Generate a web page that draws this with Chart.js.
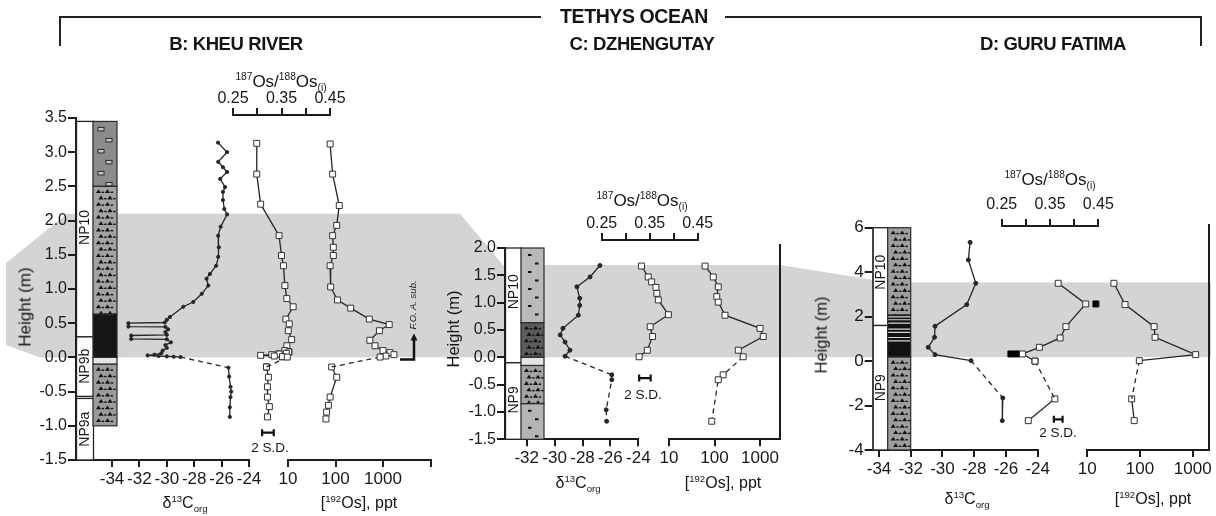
<!DOCTYPE html>
<html><head><meta charset="utf-8">
<script src="https://cdn.jsdelivr.net/npm/chart.js@4.4.1/dist/chart.umd.min.js"></script>
<style>
html,body{margin:0;padding:0;background:#fff}
#wrap{position:relative;width:1216px;height:516px;overflow:hidden;font-family:'Liberation Sans',Arial,sans-serif;color:#151515}
canvas{position:absolute;left:0;top:0}
.t{position:absolute;white-space:nowrap;transform:translate(-50%,-50%);line-height:1}
.b{font-weight:bold;font-size:18.5px;letter-spacing:-0.4px}
.ax{font-size:16px}
.os{font-size:17px}
.sd{font-size:13.5px}
sup,sub{font-size:60%;line-height:0}
.rot{transform:translate(-50%,-50%) rotate(-90deg)}
.ln{position:absolute;background:#222}
</style></head><body><div id="wrap">
<canvas id="bg" width="1216" height="516"></canvas>
<canvas id="cB1" width="1216" height="516"></canvas>
<canvas id="cB2" width="1216" height="516"></canvas>
<canvas id="cB3" width="1216" height="516"></canvas>
<canvas id="cC1" width="1216" height="516"></canvas>
<canvas id="cC2" width="1216" height="516"></canvas>
<canvas id="cC3" width="1216" height="516"></canvas>
<canvas id="cD1" width="1216" height="516"></canvas>
<canvas id="cD2" width="1216" height="516"></canvas>
<canvas id="cD3" width="1216" height="516"></canvas>

<div class="ln" style="left:59px;top:16px;width:482px;height:2px"></div>
<div class="ln" style="left:59px;top:16px;width:2px;height:30px"></div>
<div class="ln" style="left:725px;top:16px;width:477px;height:2px"></div>
<div class="ln" style="left:1200px;top:16px;width:2px;height:30px"></div>
<div class="t b" style="left:634px;top:17px;font-size:19.5px">TETHYS OCEAN</div>
<div class="t b" style="left:236px;top:44px">B: KHEU RIVER</div>
<div class="t b" style="left:642px;top:44px">C: DZHENGUTAY</div>
<div class="t b" style="left:1053px;top:44px">D: GURU FATIMA</div>

<div class="t os" style="left:281px;top:81px"><sup>187</sup>Os/<sup>188</sup>Os<sub>(i)</sub></div>
<div class="t os" style="left:642px;top:200px"><sup>187</sup>Os/<sup>188</sup>Os<sub>(i)</sub></div>
<div class="t os" style="left:1050px;top:179px"><sup>187</sup>Os/<sup>188</sup>Os<sub>(i)</sub></div>

<div class="t ax rot" style="left:25px;top:307px;font-size:17px">Height (m)</div>
<div class="t ax rot" style="left:453px;top:329px;font-size:16.5px">Height (m)</div>
<div class="t ax rot" style="left:821px;top:335px;font-size:16.5px">Height (m)</div>

<div class="t ax" style="left:185px;top:503px">δ<sup>13</sup>C<sub>org</sub></div>
<div class="t ax" style="left:359px;top:503px">[<sup>192</sup>Os], ppt</div>
<div class="t ax" style="left:578px;top:483px">δ<sup>13</sup>C<sub>org</sub></div>
<div class="t ax" style="left:723px;top:483px">[<sup>192</sup>Os], ppt</div>
<div class="t ax" style="left:967px;top:499px">δ<sup>13</sup>C<sub>org</sub></div>
<div class="t ax" style="left:1153px;top:499px">[<sup>192</sup>Os], ppt</div>

<div class="t sd" style="left:270px;top:448px">2 S.D.</div>
<div class="t sd" style="left:643px;top:395px">2 S.D.</div>
<div class="t sd" style="left:1058px;top:433px">2 S.D.</div>
<div class="t rot" style="left:413px;top:305px;font-size:9.5px;font-style:italic">F.O. A. sub.</div>
</div>
<script>
// ================= DATA =================
// Panel B: Kheu River
const kheuHeightTicks = [3.5,3.0,2.5,2.0,1.5,1.0,0.5,0.0,-0.5,-1.0,-1.5];
const kheuHeightLabels = ['3.5','3.0','2.5','2.0','1.5','1.0','0.5','0.0','-0.5','-1.0','-1.5'];
const kheuCarbonTicks = [-34,-32,-30,-28,-26,-24];
const kheuCarbonLabels = ['-34','-32','-30','-28','-26','-24'];
const kheuC13H = [3.14,3.00,2.86,2.78,2.71,2.61,2.49,2.42,2.30,2.17,2.09,1.91,1.78,1.61,1.47,1.34,1.22,1.15,1.05,0.93,0.81,0.74,0.59,0.55,0.51,0.50,0.45,0.445,0.41,0.37,0.33,0.32,0.27,0.265,0.22,0.18,0.14,0.10,0.06,0.04,0.03,0.02,0.015,0.01,0.005];
const kheuC13V = [-26.26,-25.6,-26.25,-25.9,-25.6,-26.1,-25.75,-25.9,-25.9,-25.8,-25.6,-26.07,-26.25,-26.2,-26.25,-26.4,-26.85,-27.1,-26.97,-27.45,-28.07,-28.8,-29.77,-30.0,-30.15,-32.8,-32.8,-30.1,-29.9,-30.1,-30.0,-32.6,-32.6,-30.0,-29.7,-30.1,-30.0,-30.3,-30.4,-30.9,-31.4,-30.6,-30.0,-29.5,-29.0];
const kheuC13LowH = [-0.15,-0.28,-0.43,-0.50,-0.58,-0.73,-0.87];
const kheuC13LowV = [-25.5,-25.45,-25.35,-25.3,-25.35,-25.4,-25.4];
const kheuRatioH = [3.13,2.68,2.24,1.78,1.49,1.34,1.05,0.86,0.74,0.56,0.49,0.39,0.26,0.17,0.10,0.08,0.06,0.05,0.04,0.03,0.02,0.01,0.005];
const kheuRatioV = [0.299,0.299,0.307,0.345,0.350,0.354,0.357,0.361,0.374,0.359,0.366,0.364,0.371,0.361,0.357,0.365,0.360,0.345,0.330,0.307,0.335,0.352,0.362];
const kheuRatioLowH = [-0.14,-0.29,-0.43,-0.58,-0.72,-0.87];
const kheuRatioLowV = [0.319,0.323,0.321,0.321,0.325,0.321];
const kheuRatioFilledH = [0.08,0.06,0.05,0.01,-0.14];
const kheuRatioFilledV = [0.365,0.360,0.345,0.352,0.319];
const kheuConcH = [3.12,2.68,2.22,1.93,1.78,1.61,1.49,1.34,1.03,0.84,0.72,0.56,0.48,0.39,0.25,0.17,0.10,0.07,0.04,0.02,0.005];
const kheuConcV = [77,87,120,106,87,90,90,77,79,110,209,515,1350,840,530,680,1000,1400,1700,1150,870];
const kheuConcLowH = [-0.14,-0.29,-0.58,-0.70,-0.80,-0.90];
const kheuConcLowV = [83,106,77,71,65,63];
const kheuConcTicks = [10,100,1000,10000];
const kheuConcLabels = ['10','100','1000',''];
const kheuSD = [0.322,-1.10,0.012];      // centre ratio, height, half width
const kheuBand = [0.0,2.1];
const kheuLitho = [[3.45,2.5,'#8c8c8c','rect'],[2.5,0.63,'#a3a3a3','tri'],[0.63,0.0,'#161616',''],[0.0,-0.1,'#e6e6e6',''],[-0.1,-1.0,'#9c9c9c','tri']];
const kheuZones = [[3.45,0.3,'NP10',1.9],[0.3,-0.57,'NP9b',-0.13],[-0.6,-1.5,'NP9a',-1.05]];

// Panel C: Dzhengutay
const dzhHeightTicks = [2.0,1.5,1.0,0.5,0.0,-0.5,-1.0,-1.5];
const dzhHeightLabels = ['2.0','1.5','1.0','0.5','0.0','-0.5','-1.0','-1.5'];
const dzhCarbonTicks = [-32,-30,-28,-26,-24];
const dzhCarbonLabels = ['-32','-30','-28','-26','-24'];
const dzhC13H = [1.68,1.47,1.29,1.08,0.95,0.77,0.53,0.41,0.28,0.13,0.02];
const dzhC13V = [-26.75,-27.46,-28.4,-28.2,-28.2,-28.3,-29.4,-29.6,-29.25,-28.9,-29.25];
const dzhC13LowH = [-0.32,-0.41,-0.96,-1.17];
const dzhC13LowV = [-25.9,-25.9,-26.3,-26.27];
const dzhRatioH = [1.67,1.47,1.38,1.28,1.17,1.05,0.78,0.56,0.38,0.13,0.01];
const dzhRatioV = [0.333,0.347,0.354,0.363,0.365,0.368,0.389,0.351,0.356,0.345,0.328];
const dzhConcH = [1.67,1.47,1.29,1.11,1.01,0.77,0.53,0.38,0.13,0.01];
const dzhConcV = [62,94,121,112,121,170,1000,1180,333,427];
const dzhConcLowH = [-0.32,-0.41,-1.17];
const dzhConcLowV = [155,121,87];
const dzhConcTicks = [10,100,1000];
const dzhConcLabels = ['10','100','1000'];
const dzhSD = [0.340,-0.38,0.012];
const dzhBand = [0.0,1.69];
const dzhLitho = [[2.0,0.63,'#b9b9b9','dash'],[0.63,0.0,'#5c5c5c','tri'],[0.0,-0.15,'#e4e4e4',''],[-0.15,-0.85,'#a4a4a4','tri'],[-0.85,-1.5,'#b4b4b4','dash']];
const dzhZones = [[2.0,-0.1,'NP10',1.2],[-0.1,-1.5,'NP9',-0.78]];

// Panel D: Guru Fatima
const guruHeightTicks = [6,4,2,0,-2,-4];
const guruHeightLabels = ['6','4','2','0','-2','-4'];
const guruCarbonTicks = [-34,-32,-30,-28,-26,-24];
const guruCarbonLabels = ['-34','-32','-30','-28','-26','-24'];
const guruC13H = [5.34,4.55,3.50,2.54,1.57,1.07,0.62,0.29,0.02];
const guruC13V = [-28.26,-28.37,-27.9,-28.47,-30.47,-30.5,-30.9,-30.47,-28.2];
const guruC13LowH = [-1.66,-2.68];
const guruC13LowV = [-26.2,-26.23];
const guruRatioH = [3.50,2.57,1.55,1.04,0.62,0.32,0.0];
const guruRatioV = [0.367,0.424,0.383,0.371,0.328,0.293,0.319];
const guruRatioLowH = [-1.70,-2.68];
const guruRatioLowV = [0.360,0.305];
const guruRatioFilledH = [2.57,0.32,0.32,0.0];
const guruRatioFilledV = [0.445,0.269,0.281,0.319];
const guruConcH = [3.50,2.54,1.55,1.07,0.29,0.02];
const guruConcV = [32,52,185,193,1140,97];
const guruConcLowH = [-1.70,-2.68];
const guruConcLowV = [69.5,77.6];
const guruConcTicks = [10,100,1000];
const guruConcLabels = ['10','100','1000'];
const guruSD = [0.367,-2.62,0.009];
const guruBand = [0.18,3.53];
const guruLitho = [[6,2.07,'#9e9e9e','tri'],[2.07,0.18,'#111111','lam'],[0.18,-4,'#9e9e9e','tri']];
const guruLaminae = [1.99,1.86,1.71,1.44,1.29,1.06,0.91];
const guruZones = [[6,1.6,'NP10',4.0],[1.6,-4,'NP9',-1.2]];

const ratioTicks = [0.25,0.30,0.35,0.40,0.45];
const ratioLabels = ['0.25','','0.35','','0.45'];

// ================= HELPERS =================
const FONT = "'Liberation Sans', Arial, sans-serif";
const INK = '#1c1c1c';
const W = 1216, H = 516;
const pts = (hs, vs) => hs.map((h, i) => ({x: vs[i], y: h}));
const join = (hsA, vsA, hsB, vsB) => [{x: vsA[vsA.length-1], y: hsA[hsA.length-1]}, {x: vsB[0], y: hsB[0]}];

function ds(data, o) {
  return Object.assign({data, showLine: true, borderColor: '#262626', borderWidth: 1.3, pointRadius: 2,
    pointStyle: 'circle', pointBackgroundColor: '#262626', pointBorderColor: '#262626', pointBorderWidth: 1,
    clip: false, tension: 0}, o || {});
}
const openSq = {pointStyle: 'rect', pointRadius: 4.2, pointBackgroundColor: '#fff', pointBorderColor: '#333', pointBorderWidth: 1};
const filledSq = {pointStyle: 'rect', pointRadius: 4.2, pointBackgroundColor: '#000', pointBorderColor: '#000', showLine: false};
const dashed = {borderDash: [5, 4], pointRadius: 0, borderWidth: 1.3};

const fixTicks = vals => s => { s.ticks = vals.map(v => ({value: v})); };
function axis(o) {
  const vertical = o.pos === 'left' || o.pos === 'right';
  return {
    type: o.type || 'linear', position: o.pos, min: o.min, max: o.max, display: true,
    afterBuildTicks: fixTicks(o.ticks),
    afterFit: s => { if (vertical) s.width = o.fit; else s.height = o.fit; },
    border: {display: true, color: INK, width: 2},
    grid: {display: true, drawOnChartArea: false, drawTicks: o.tickLen !== 0, tickLength: o.tickLen == null ? 7 : o.tickLen,
      tickColor: INK, tickWidth: 2, color: INK, lineWidth: 2},
    ticks: {display: !!o.labels, color: '#181818', font: {family: FONT, size: o.size || 15}, padding: o.pad == null ? 3 : o.pad,
      autoSkip: false, maxRotation: 0, minRotation: 0, callback: (v, i) => o.labels ? o.labels[i] : ''}
  };
}
const hidden = (min, max) => ({type: 'linear', position: 'left', min, max, display: false});

function makeChart(id, area, sz, datasets, scales, plugins, pluginOpts) {
  return new Chart(document.getElementById(id), {
    type: 'scatter',
    data: {datasets},
    options: {
      responsive: false, animation: false, devicePixelRatio: 1, events: [],
      layout: {padding: {left: area.l - (sz.left || 0), right: W - area.r - (sz.right || 0),
        top: area.t - (sz.top || 0), bottom: H - area.b - (sz.bottom || 0)}},
      plugins: Object.assign({legend: {display: false}, tooltip: {enabled: false}}, pluginOpts || {}),
      scales
    },
    plugins: plugins || []
  });
}

// lithology column + biostratigraphic zones drawn in the height scale
function drawSymbols(ctx, kind, x, yt, w, h, laminae, yScale) {
  ctx.save(); ctx.beginPath(); ctx.rect(x, yt, w, h); ctx.clip();
  let row = 0;
  if (kind === 'tri') {
    ctx.fillStyle = '#111';
    for (let yy = yt + 5; yy < yt + h + 3; yy += 6.4, row++) {
      const off = row % 2 ? 2.5 : 0;
      for (const cx of [x + 5.5 + off, x + 14.5 + off]) {
        ctx.beginPath(); ctx.moveTo(cx - 2.6, yy + 1.6); ctx.lineTo(cx + 2.6, yy + 1.6); ctx.lineTo(cx, yy - 2.2); ctx.closePath(); ctx.fill();
        ctx.fillRect(cx + 3.2, yy + 0.2, 2.4, 1.4);
      }
    }
  } else if (kind === 'rect') {
    for (let yy = yt + 6; yy < yt + h; yy += 11, row++) {
      const cx = x + (row % 2 ? 13 : 5);
      ctx.fillStyle = '#c9c9c9'; ctx.fillRect(cx, yy, 6, 3.5);
      ctx.strokeStyle = '#2a2a2a'; ctx.lineWidth = 1; ctx.strokeRect(cx, yy, 6, 3.5);
    }
  } else if (kind === 'dash') {
    ctx.fillStyle = '#111';
    for (let yy = yt + 6; yy < yt + h; yy += 8.5, row++) {
      ctx.fillRect(x + (row % 2 ? 14 : 7), yy, 3.5, 2);
    }
  } else if (kind === 'lam') {
    ctx.strokeStyle = '#d8d8d8'; ctx.lineWidth = 1.2;
    (laminae || []).forEach(v => { const yy = yScale.getPixelForValue(v); ctx.beginPath(); ctx.moveTo(x, yy); ctx.lineTo(x + w, yy); ctx.stroke(); });
  }
  ctx.restore();
}
const columnPlugin = {
  id: 'column',
  beforeDatasetsDraw(chart, args, o) {
    const {ctx, chartArea: a} = chart, y = chart.scales.y;
    const x0 = a.left;
    ctx.save();
    o.zones.forEach(([top, bot, label, lh]) => {
      const yt = y.getPixelForValue(top), yb = y.getPixelForValue(bot);
      ctx.fillStyle = '#fff'; ctx.fillRect(x0, yt, o.boxW, yb - yt);
      ctx.strokeStyle = '#222'; ctx.lineWidth = 1.3; ctx.strokeRect(x0 + 0.5, yt, o.boxW, yb - yt);
      ctx.save(); ctx.translate(x0 + o.boxW / 2 + 1, y.getPixelForValue(lh)); ctx.rotate(-Math.PI / 2);
      ctx.fillStyle = '#1a1a1a'; ctx.font = `14px ${FONT}`; ctx.textAlign = 'center'; ctx.textBaseline = 'middle';
      ctx.fillText(label, 0, 0); ctx.restore();
    });
    const lx = x0 + o.boxW;
    o.litho.forEach(([top, bot, col, kind]) => {
      const yt = y.getPixelForValue(top), yb = y.getPixelForValue(bot);
      ctx.fillStyle = col; ctx.fillRect(lx, yt, o.lithoW, yb - yt);
      drawSymbols(ctx, kind, lx, yt, o.lithoW, yb - yt, o.laminae, y);
      ctx.strokeStyle = '#2a2a2a'; ctx.lineWidth = 1.2; ctx.strokeRect(lx, yt, o.lithoW, yb - yt);
    });
    ctx.restore();
  }
};
// 2 S.D. error bar in ratio units
const sdPlugin = {
  id: 'sdbar',
  afterDatasetsDraw(chart, args, o) {
    const {ctx} = chart, x = chart.scales.x, y = chart.scales.y;
    const [c, h, hw] = o.bar;
    const x1 = x.getPixelForValue(c - hw), x2 = x.getPixelForValue(c + hw), yy = y.getPixelForValue(h);
    ctx.save(); ctx.strokeStyle = '#111'; ctx.lineWidth = 2.2;
    ctx.beginPath(); ctx.moveTo(x1, yy); ctx.lineTo(x2, yy);
    ctx.moveTo(x1, yy - 3.5); ctx.lineTo(x1, yy + 3.5); ctx.moveTo(x2, yy - 3.5); ctx.lineTo(x2, yy + 3.5); ctx.stroke();
    ctx.restore();
  }
};
// first-occurrence marker at the base of the section (Kheu)
const foPlugin = {
  id: 'fo',
  afterDatasetsDraw(chart) {
    const {ctx} = chart, y = chart.scales.y;
    const yy = y.getPixelForValue(0) + 2;
    ctx.save(); ctx.strokeStyle = '#111'; ctx.fillStyle = '#111'; ctx.lineWidth = 2.5;
    ctx.beginPath(); ctx.moveTo(400, yy); ctx.lineTo(414, yy); ctx.lineTo(414, yy - 20); ctx.stroke();
    ctx.beginPath(); ctx.moveTo(410.5, yy - 19); ctx.lineTo(417.5, yy - 19); ctx.lineTo(414, yy - 26); ctx.closePath(); ctx.fill();
    ctx.restore();
  }
};

// ================= PANEL B =================
const B = {spine: 76, top: 118, bot: 460, yMin: -1.5, yMax: 3.5};
const Bpx = (B.bot - B.top) / (B.yMax - B.yMin);
const Bval = p => B.yMin + (B.bot - p) / Bpx;
const chB1 = makeChart('cB1', {l: B.spine, r: 249, t: B.top, b: B.bot}, {left: 60, bottom: 30}, [
  ds(pts(kheuC13H, kheuC13V), {pointRadius: 1.6}),
  ds(join(kheuC13H, kheuC13V, kheuC13LowH, kheuC13LowV), dashed),
  ds(pts(kheuC13LowH, kheuC13LowV), {pointRadius: 1.6})
], {
  x: axis({pos: 'bottom', min: -24 - (249 - B.spine) / 13.7, max: -24, ticks: kheuCarbonTicks, labels: kheuCarbonLabels, fit: 30, size: 17, pad: 2}),
  y: axis({pos: 'left', min: B.yMin, max: B.yMax, ticks: kheuHeightTicks, labels: kheuHeightLabels, fit: 60, tickLen: 8, pad: 1, size: 16})
}, [columnPlugin], {column: {boxW: 17, lithoW: 24, litho: kheuLitho, zones: kheuZones}});

makeChart('cB2', {l: 233, r: 330, t: 115, b: B.bot}, {top: 30}, [
  ds(pts(kheuRatioH, kheuRatioV), openSq),
  ds(join(kheuRatioH, kheuRatioV, kheuRatioLowH, kheuRatioLowV), dashed),
  ds(pts(kheuRatioLowH, kheuRatioLowV), openSq),
  ds(pts(kheuRatioFilledH, kheuRatioFilledV), filledSq)
], {
  x: axis({pos: 'top', min: 0.25, max: 0.45, ticks: ratioTicks, labels: ratioLabels, fit: 30, pad: 0, size: 16}),
  y: hidden(B.yMin, Bval(115))
}, [sdPlugin], {sdbar: {bar: kheuSD}});

makeChart('cB3', {l: 288, r: 430.5, t: B.top, b: B.bot}, {bottom: 30}, [
  ds(pts(kheuConcH, kheuConcV), openSq),
  ds(join(kheuConcH, kheuConcV, kheuConcLowH, kheuConcLowV), dashed),
  ds(pts(kheuConcLowH, kheuConcLowV), openSq)
], {
  x: axis({type: 'logarithmic', pos: 'bottom', min: 10, max: 10000, ticks: kheuConcTicks, labels: kheuConcLabels, fit: 30, size: 17, pad: 2}),
  y: hidden(B.yMin, B.yMax)
}, [foPlugin]);

// ================= PANEL C =================
const C = {spine: 505, top: 248, bot: 439.3, yMin: -1.5, yMax: 2.0};
const Cpx = (C.bot - C.top) / (C.yMax - C.yMin);
const Cval = p => C.yMin + (C.bot - p) / Cpx;
const chC1 = makeChart('cC1', {l: C.spine, r: 638.3, t: C.top, b: C.bot}, {left: 60, bottom: 30}, [
  ds(pts(dzhC13H, dzhC13V)),
  ds(join(dzhC13H, dzhC13V, dzhC13LowH, dzhC13LowV), dashed),
  ds(pts(dzhC13LowH, dzhC13LowV), {borderDash: [5, 4]})
], {
  x: axis({pos: 'bottom', min: -24 - (638.3 - C.spine) / 13.95, max: -24, ticks: dzhCarbonTicks, labels: dzhCarbonLabels, fit: 30, size: 17, pad: 2}),
  y: axis({pos: 'left', min: C.yMin, max: C.yMax, ticks: dzhHeightTicks, labels: dzhHeightLabels, fit: 60, tickLen: 8, pad: 1, size: 16})
}, [columnPlugin], {column: {boxW: 16, lithoW: 23, litho: dzhLitho, zones: dzhZones}});

makeChart('cC2', {l: 601.7, r: 697.7, t: 240, b: C.bot}, {top: 30}, [
  ds(pts(dzhRatioH, dzhRatioV), openSq)
], {
  x: axis({pos: 'top', min: 0.25, max: 0.45, ticks: ratioTicks, labels: ratioLabels, fit: 30, pad: 0, size: 16}),
  y: hidden(C.yMin, Cval(240))
}, [sdPlugin], {sdbar: {bar: dzhSD}});

const cMax = Math.pow(10, 1 + (780 - 669) / 45.5);
makeChart('cC3', {l: 669, r: 780, t: 245, b: C.bot}, {bottom: 30}, [
  ds(pts(dzhConcH, dzhConcV), openSq),
  ds(join(dzhConcH, dzhConcV, dzhConcLowH, dzhConcLowV), dashed),
  ds(pts(dzhConcLowH, dzhConcLowV), Object.assign({}, openSq, {borderDash: [5, 4]}))
], {
  x: axis({type: 'logarithmic', pos: 'bottom', min: 10, max: cMax, ticks: dzhConcTicks, labels: dzhConcLabels, fit: 30, size: 17, pad: 2}),
  y: axis({pos: 'right', min: C.yMin, max: Cval(245), ticks: [C.yMin], labels: null, fit: 0, tickLen: 0})
});

// ================= PANEL D =================
const D = {spine: 872.7, top: 227.7, bot: 450, yMin: -4, yMax: 6};
const Dpx = (D.bot - D.top) / (D.yMax - D.yMin);
const Dval = p => D.yMin + (D.bot - p) / Dpx;
const chD1 = makeChart('cD1', {l: D.spine, r: 1037.7, t: D.top, b: D.bot}, {left: 50, bottom: 30}, [
  ds(pts(guruC13H, guruC13V)),
  ds(join(guruC13H, guruC13V, guruC13LowH, guruC13LowV), dashed),
  ds(pts(guruC13LowH, guruC13LowV))
], {
  x: axis({pos: 'bottom', min: -24 - (1037.7 - D.spine) / 15.87, max: -24, ticks: guruCarbonTicks, labels: guruCarbonLabels, fit: 30, size: 17, pad: 2}),
  y: axis({pos: 'left', min: D.yMin, max: D.yMax, ticks: guruHeightTicks, labels: guruHeightLabels, fit: 50, tickLen: 8, pad: 1, size: 17})
}, [columnPlugin], {column: {boxW: 15, lithoW: 23, litho: guruLitho, zones: guruZones, laminae: guruLaminae}});

makeChart('cD2', {l: 1001.7, r: 1098.3, t: 226, b: D.bot}, {top: 30}, [
  ds(pts(guruRatioH, guruRatioV), openSq),
  ds(join(guruRatioH, guruRatioV, guruRatioLowH, guruRatioLowV), dashed),
  ds(pts(guruRatioLowH, guruRatioLowV), openSq),
  ds(pts(guruRatioFilledH, guruRatioFilledV), filledSq)
], {
  x: axis({pos: 'top', min: 0.25, max: 0.45, ticks: ratioTicks, labels: ratioLabels, fit: 30, pad: 5, size: 16}),
  y: hidden(D.yMin, Dval(226))
}, [sdPlugin], {sdbar: {bar: guruSD}});

const dMax = Math.pow(10, 1 + (1209 - 1087.3) / 52.7);
makeChart('cD3', {l: 1087.3, r: 1209, t: 225, b: D.bot}, {bottom: 30}, [
  ds(pts(guruConcH, guruConcV), openSq),
  ds(join(guruConcH, guruConcV, guruConcLowH, guruConcLowV), dashed),
  ds(pts(guruConcLowH, guruConcLowV), openSq)
], {
  x: axis({type: 'logarithmic', pos: 'bottom', min: 10, max: dMax, ticks: guruConcTicks, labels: guruConcLabels, fit: 30, size: 17, pad: 2}),
  y: axis({pos: 'right', min: D.yMin, max: Dval(225), ticks: [D.yMin], labels: null, fit: 0, tickLen: 0})
});

// ================= CORRELATION BAND (background) =================
(function () {
  const ctx = document.getElementById('bg').getContext('2d');
  const yB = v => chB1.scales.y.getPixelForValue(v);
  const yC = v => chC1.scales.y.getPixelForValue(v);
  const yD = v => chD1.scales.y.getPixelForValue(v);
  const top = [[6, 263], [67, yB(kheuBand[1])], [460, yB(kheuBand[1])], [503, yC(dzhBand[1])], [780, yC(dzhBand[1])], [890, yD(guruBand[1])], [1211, yD(guruBand[1])]];
  const bot = [[1211, yD(guruBand[0])], [890, yD(guruBand[0])], [780, yC(dzhBand[0])], [460, yC(dzhBand[0])], [40, yB(kheuBand[0])], [6, 345]];
  ctx.fillStyle = '#d3d4d6';
  ctx.beginPath();
  top.concat(bot).forEach(([x, y], i) => i ? ctx.lineTo(x, y) : ctx.moveTo(x, y));
  ctx.closePath(); ctx.fill();
})();
</script>
</body></html>
